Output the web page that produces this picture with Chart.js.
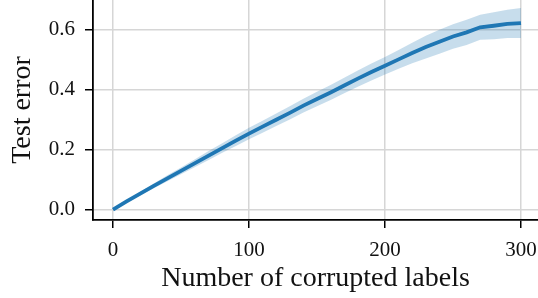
<!DOCTYPE html>
<html>
<head>
<meta charset="utf-8">
<script src="https://cdn.jsdelivr.net/npm/chart.js@4.4.0/dist/chart.umd.min.js"></script>
<style>
  body { margin: 0; background: #fff; }
  #wrap { width: 538px; height: 298px; }
</style>
</head>
<body>
<div id="wrap"><canvas id="myChart" width="538" height="298"></canvas></div>
<script>
// number of corrupted labels vs test error (mean and spread)
const corrupted = [0, 10, 20, 30, 40, 50, 60, 70, 80, 90, 100, 110, 120, 130, 140, 150,
    160, 170, 180, 190, 200, 210, 220, 230, 240, 250, 260, 270, 280, 290, 300];
const testError = [0, 0.027, 0.053, 0.079, 0.104, 0.129, 0.154, 0.179, 0.204, 0.229, 0.253,
    0.276, 0.299, 0.322, 0.346, 0.368, 0.39, 0.413, 0.436, 0.458, 0.479, 0.5, 0.521,
    0.541, 0.559, 0.576, 0.59, 0.607, 0.612, 0.618, 0.621];
const errorSpread = [0.002, 0.004, 0.006, 0.008, 0.01, 0.011, 0.013, 0.015, 0.016, 0.018,
    0.019, 0.02, 0.021, 0.022, 0.023, 0.024, 0.025, 0.026, 0.027, 0.028, 0.029, 0.031,
    0.034, 0.038, 0.04, 0.041, 0.042, 0.042, 0.045, 0.047, 0.05];
const xTicks = [0, 100, 200, 300];
const yTicks = [0, 0.2, 0.4, 0.6];

const blue = '#1f77b4';
const band = 'rgba(31, 119, 180, 0.25)';
const gridGrey = '#d6d6d6';
const font = "'Liberation Serif', serif";

const meanPts = corrupted.map((x, i) => ({ x: x, y: testError[i] }));
const upperPts = corrupted.map((x, i) => ({ x: x, y: testError[i] + errorSpread[i] }));
const lowerPts = corrupted.map((x, i) => ({ x: x, y: testError[i] - errorSpread[i] }));

Chart.defaults.color = '#111';
Chart.defaults.font.family = font;

const ctx = document.getElementById('myChart').getContext('2d');
new Chart(ctx, {
    type: 'line',
    data: {
        datasets: [
            {
                data: meanPts,
                borderColor: blue,
                borderWidth: 3.8,
                pointRadius: 0,
                tension: 0,
                fill: false,
                order: 0
            },
            {
                data: upperPts,
                borderWidth: 0,
                borderColor: 'transparent',
                pointRadius: 0,
                fill: false,
                order: 1
            },
            {
                data: lowerPts,
                borderWidth: 0,
                borderColor: 'transparent',
                backgroundColor: band,
                pointRadius: 0,
                fill: '-1',
                order: 2
            }
        ]
    },
    options: {
        responsive: false,
        animation: false,
        layout: { padding: 0 },
        plugins: {
            legend: { display: false },
            tooltip: { enabled: false }
        },
        scales: {
            x: {
                type: 'linear',
                min: -14.7,
                max: 312.5,
                afterBuildTicks: scale => { scale.ticks = xTicks.map(v => ({ value: v })); },
                afterFit: scale => {
                    scale.height = 78;
                    scale.paddingLeft = 0;
                    scale.paddingRight = 0;
                },
                grid: {
                    color: gridGrey,
                    lineWidth: 1.5,
                    tickColor: '#000',
                    tickWidth: 1.5,
                    tickLength: 8
                },
                border: { color: '#000', width: 1.8 },
                ticks: {
                    padding: 10,
                    maxRotation: 0,
                    font: { size: 21 },
                    callback: v => String(v)
                },
                title: {
                    display: true,
                    text: 'Number of corrupted labels',
                    font: { size: 28 },
                    padding: { top: 0, bottom: 3 }
                }
            },
            y: {
                type: 'linear',
                min: -0.0347,
                max: 0.6977,
                afterBuildTicks: scale => { scale.ticks = yTicks.map(v => ({ value: v })); },
                afterFit: scale => {
                    scale.width = 93;
                    scale.paddingTop = 0;
                    scale.paddingBottom = 0;
                },
                grid: {
                    color: gridGrey,
                    lineWidth: 1.5,
                    tickColor: '#000',
                    tickWidth: 1.5,
                    tickLength: 8
                },
                border: { color: '#000', width: 1.8 },
                ticks: {
                    padding: 10,
                    font: { size: 21 },
                    callback: v => v.toFixed(1)
                },
                title: {
                    display: true,
                    text: 'Test error',
                    font: { size: 28 },
                    padding: { top: 6, bottom: 0 }
                }
            }
        }
    }
});
</script>
</body>
</html>
